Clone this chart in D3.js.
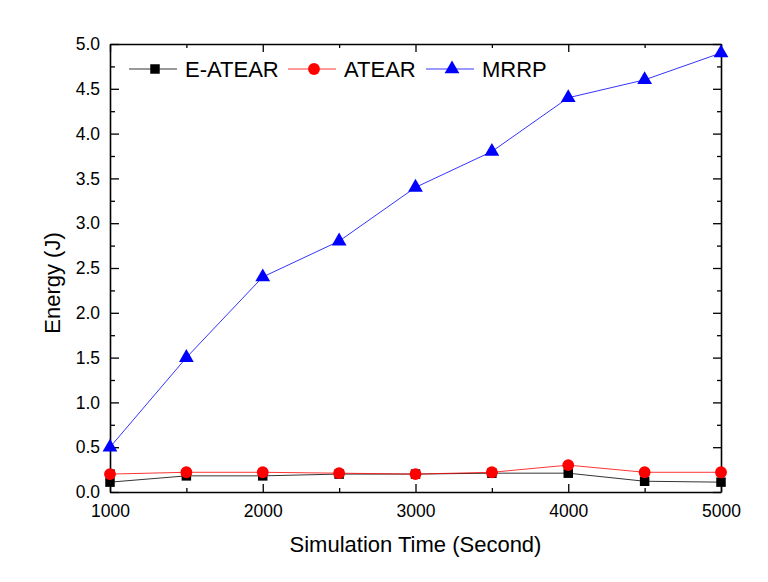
<!DOCTYPE html>
<html>
<head>
<meta charset="utf-8">
<script src="https://cdn.jsdelivr.net/npm/d3@7"></script>
<style>
  body { margin: 0; background: #fff; }
  text { font-family: "Liberation Sans", Arial, sans-serif; fill: #000; }
</style>
</head>
<body>
<div id="chart"></div>
<script>
"use strict";

// values
const times = [1000, 1500, 2000, 2500, 3000, 3500, 4000, 4500, 5000];
const eatear = [0.11, 0.18, 0.18, 0.20, 0.20, 0.21, 0.21, 0.12, 0.11];
const atear = [0.20, 0.22, 0.22, 0.21, 0.20, 0.22, 0.30, 0.22, 0.22];
const mrrp = [0.5, 1.5, 2.4, 2.8, 3.4, 3.8, 4.4, 4.6, 4.9];
const seriesNames = ["E-ATEAR", "ATEAR", "MRRP"];
const xTicks = [1000, 2000, 3000, 4000, 5000];
const yTicks = [0, 0.5, 1, 1.5, 2, 2.5, 3, 3.5, 4, 4.5, 5];

const W = 768, H = 582;
const LEFT = 110, RIGHT = 721, TOP = 44, BOTTOM = 492;

const svg = d3.select("#chart").append("svg")
    .attr("width", W)
    .attr("height", H);

const xscale = d3.scaleLinear().domain([1000, 5000]).range([LEFT, RIGHT]);
const yscale = d3.scaleLinear().domain([0, 5]).range([BOTTOM, TOP]);

const styles = [
    { color: "#000000", line: "#000000", symbol: d3.symbolSquare, size: 90 },
    { color: "#ff0000", line: "#ff0000", symbol: d3.symbolCircle, size: 110 },
    { color: "#0000ff", line: "#0000ff", symbol: d3.symbolTriangle, size: 95 },
];
const values = [eatear, atear, mrrp];

// axes, ticks pointing inward on all four sides
const xMinor = d3.range(1500, 5000, 1000);
const yMinor = d3.range(0.25, 5, 0.5);

svg.append("g")
    .attr("transform", `translate(0,${BOTTOM})`)
    .call(d3.axisBottom(xscale).tickValues(xTicks).tickFormat(d3.format("d"))
        .tickSizeInner(-8).tickSizeOuter(0).tickPadding(13))
    .call(g => g.selectAll("text").attr("font-size", 17.5));
svg.append("g")
    .attr("transform", `translate(0,${BOTTOM})`)
    .call(d3.axisBottom(xscale).tickValues(xMinor).tickFormat("")
        .tickSizeInner(-4).tickSizeOuter(0))
    .call(g => g.select(".domain").remove());
svg.append("g")
    .attr("transform", `translate(0,${TOP})`)
    .call(d3.axisTop(xscale).tickValues(xTicks).tickFormat("")
        .tickSizeInner(-8).tickSizeOuter(0));
svg.append("g")
    .attr("transform", `translate(0,${TOP})`)
    .call(d3.axisTop(xscale).tickValues(xMinor).tickFormat("")
        .tickSizeInner(-4).tickSizeOuter(0))
    .call(g => g.select(".domain").remove());

svg.append("g")
    .attr("transform", `translate(${LEFT},0)`)
    .call(d3.axisLeft(yscale).tickValues(yTicks).tickFormat(d3.format(".1f"))
        .tickSizeInner(-9).tickSizeOuter(0).tickPadding(10))
    .call(g => g.selectAll("text").attr("font-size", 17.5));
svg.append("g")
    .attr("transform", `translate(${LEFT},0)`)
    .call(d3.axisLeft(yscale).tickValues(yMinor).tickFormat("")
        .tickSizeInner(-5).tickSizeOuter(0))
    .call(g => g.select(".domain").remove());
svg.append("g")
    .attr("transform", `translate(${RIGHT},0)`)
    .call(d3.axisRight(yscale).tickValues(yTicks).tickFormat("")
        .tickSizeInner(-8).tickSizeOuter(0));
svg.append("g")
    .attr("transform", `translate(${RIGHT},0)`)
    .call(d3.axisRight(yscale).tickValues(yMinor).tickFormat("")
        .tickSizeInner(-4).tickSizeOuter(0))
    .call(g => g.select(".domain").remove());

svg.selectAll(".domain").attr("stroke-width", 1.6);
svg.selectAll(".tick line").attr("stroke-width", 1.3);

// titles
svg.append("text")
    .attr("x", (LEFT + RIGHT) / 2)
    .attr("y", 552)
    .attr("text-anchor", "middle")
    .attr("font-size", 22)
    .text("Simulation Time (Second)");
svg.append("text")
    .attr("transform", `translate(60,${(TOP + BOTTOM) / 2 + 15}) rotate(-90)`)
    .attr("text-anchor", "middle")
    .attr("font-size", 22)
    .text("Energy (J)");

// series
const line = d3.line()
    .x((d, i) => xscale(times[i]))
    .y(d => yscale(d));

values.forEach((vals, k) => {
    const st = styles[k];
    svg.append("path")
        .datum(vals)
        .attr("fill", "none")
        .attr("stroke", st.line)
        .attr("stroke-width", 0.8)
        .attr("d", line);
    svg.append("g").selectAll("path")
        .data(vals)
        .join("path")
        .attr("transform", (d, i) => `translate(${xscale(times[i])},${yscale(d)})`)
        .attr("d", d3.symbol(st.symbol, st.size))
        .attr("fill", st.color);
});

// legend
const legendY = 69;
const legendX = [129, 288, 426];
seriesNames.forEach((name, k) => {
    const st = styles[k];
    const g = svg.append("g").attr("transform", `translate(${legendX[k]},${legendY})`);
    g.append("line")
        .attr("x1", 0).attr("x2", 48)
        .attr("stroke", st.line)
        .attr("stroke-width", 0.8);
    g.append("path")
        .attr("transform", "translate(26,0)")
        .attr("d", d3.symbol(st.symbol, st.size))
        .attr("fill", st.color);
    g.append("text")
        .attr("x", 56)
        .attr("dy", "0.36em")
        .attr("font-size", 22)
        .text(name);
});
</script>
</body>
</html>
